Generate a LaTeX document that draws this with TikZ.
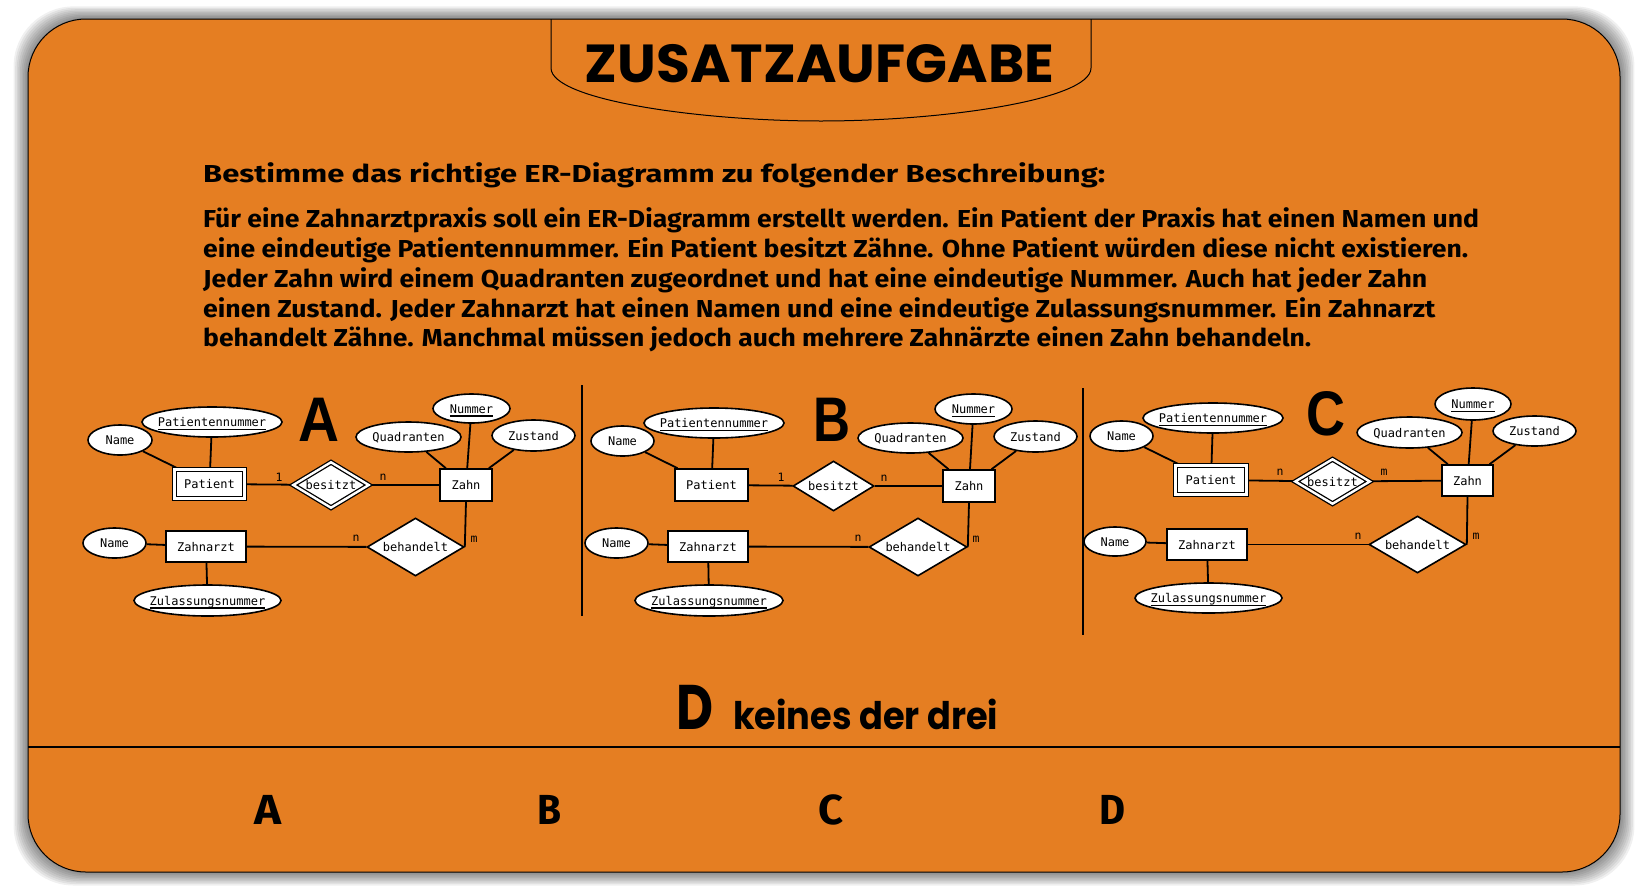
\documentclass[tikz,border=0pt]{standalone}
\usepackage{fontspec}
\usepackage{graphicx}
\usetikzlibrary{shapes.geometric}
\newfontfamily\fira{Fira Sans}
\newfontfamily\popp{Poppins}
\newfontfamily\libs{Liberation Sans}
\newfontfamily\dmono{DejaVu Sans Mono}
\definecolor{bgorange}{RGB}{229,126,34}
\pgfdeclarelayer{back}
\pgfdeclarelayer{edgelayer}
\pgfsetlayers{back,edgelayer,main}
\newcommand\ermono{\dmono\fontsize{12}{14}\selectfont}
\newcommand\cardmono{\dmono\fontsize{11.5}{13}\selectfont}
\newcommand\mb[1]{\makebox[0pt]{#1}}
\newcommand\keyu[1]{\setbox0\hbox{#1}\rlap{\rule[-3.8pt]{\wd0}{1.6pt}}\box0}
\newcommand\fitw[3]{\resizebox{#1}{\height}{#2#3}}
\tikzset{
  er/.style={draw, fill=white, line width=1.6pt, inner sep=0pt, font=\ermono, text height=9.5pt, text depth=0.5pt},
  ent/.style={er, rectangle},
  went/.style={er, rectangle, line width=1.3pt, double, double distance=2.4pt},
  rel/.style={er, diamond},
  wrel/.style={rel, line width=1.3pt, double, double distance=2.4pt},
  attr/.style={er, ellipse},
  card/.style={inner sep=0pt, font=\cardmono},
  conn/.style={line width=1.8pt},
  txt/.style={inner sep=0pt, anchor=base west},
  ctxt/.style={inner sep=0pt, anchor=base},
}
\begin{document}
\begin{tikzpicture}[x=1pt,y=-1pt]
\useasboundingbox (0,0) rectangle (1648,892);
\begin{pgfonlayer}{back}
\fill[white] (0,0) rectangle (1648,892);
\foreach \i in {1,...,9} {
  \fill[black, opacity=0.06, rounded corners=60pt] (28-1.6*\i, 19-1.4*\i) rectangle (1620+1.6*\i, 872+1.5*\i);
}
\fill[bgorange, draw=black, line width=1pt, rounded corners=58pt] (28,19) rectangle (1620,872);
\draw[line width=1pt] (551,19) -- (551,68) .. controls (551,100) and (700,121) .. (821,121) .. controls (942,121) and (1091,100) .. (1091,68) -- (1091,19);
\draw[line width=1.2pt] (28,747) -- (1620,747);
\draw[line width=1.3pt] (582,385) -- (582,616);
\draw[line width=1.3pt] (1083,388) -- (1083,635);
\end{pgfonlayer}

% texts
\node[ctxt] (title) at (819.5,82) {\fitw{469pt}{\popp\bfseries\fontsize{53.5}{60}\selectfont}{ZUSATZAUFGABE}};
\node[txt] (head) at (203,182) {\fitw{902pt}{\fira\bfseries\fontsize{24.5}{30}\selectfont}{Bestimme das richtige ER-Diagramm zu folgender Beschreibung:}};
\node[txt] (p1) at (203,227) {\fitw{1276pt}{\fira\bfseries\fontsize{24.5}{30}\selectfont}{Für eine Zahnarztpraxis soll ein ER-Diagramm erstellt werden. Ein Patient der Praxis hat einen Namen und}};
\node[txt] (p2) at (203,257) {\fitw{1265pt}{\fira\bfseries\fontsize{24.5}{30}\selectfont}{eine eindeutige Patientennummer. Ein Patient besitzt Zähne. Ohne Patient würden diese nicht existieren.}};
\node[txt] (p3) at (203,287) {\fitw{1224pt}{\fira\bfseries\fontsize{24.5}{30}\selectfont}{Jeder Zahn wird einem Quadranten zugeordnet und hat eine eindeutige Nummer. Auch hat jeder Zahn}};
\node[txt] (p4) at (203,317) {\fitw{1232pt}{\fira\bfseries\fontsize{24.5}{30}\selectfont}{einen Zustand. Jeder Zahnarzt hat einen Namen und eine eindeutige Zulassungsnummer. Ein Zahnarzt}};
\node[txt] (p5) at (203,346.5) {\fitw{1108pt}{\fira\bfseries\fontsize{24.5}{30}\selectfont}{behandelt Zähne. Manchmal müssen jedoch auch mehrere Zahnärzte einen Zahn behandeln.}};

\node[txt] (dD) at (676,729) {\fitw{37pt}{\popp\bfseries\fontsize{63}{70}\selectfont}{D}};
\node[txt] (dtext) at (733,729) {\fitw{265pt}{\popp\bfseries\fontsize{38}{44}\selectfont}{keines der drei}};

\node[ctxt] (ansA) at (267.5,824) {\fitw{27pt}{\fira\bfseries\fontsize{42}{48}\selectfont}{A}};
\node[ctxt] (ansB) at (549,824) {\fitw{24pt}{\fira\bfseries\fontsize{42}{48}\selectfont}{B}};
\node[ctxt] (ansC) at (830.5,824) {\fitw{25pt}{\fira\bfseries\fontsize{42}{48}\selectfont}{C}};
\node[ctxt] (ansD) at (1112,824) {\fitw{26pt}{\fira\bfseries\fontsize{42}{48}\selectfont}{D}};

\node[ctxt] (labA) at (318.5,441) {\fitw{41pt}{\libs\bfseries\fontsize{63}{70}\selectfont}{A}};
\node[ctxt] (labB) at (831.5,441) {\fitw{37pt}{\libs\bfseries\fontsize{63}{70}\selectfont}{B}};
\node[ctxt] (labC) at (1325.5,435) {\fitw{39pt}{\libs\bfseries\fontsize{63}{70}\selectfont}{C}};

% ===== Diagram A =====
\node[attr, minimum width=64pt, minimum height=30pt] (nameA1) at (120,440) {\mb{Name}};
\node[attr, minimum width=140pt, minimum height=30pt] (pnrA) at (212,422) {\mb{\keyu{Patientennummer}}};
\node[went, minimum width=70pt, minimum height=29pt] (patA) at (209.5,484) {\mb{Patient}};
\node[wrel, minimum width=76pt, minimum height=46pt] (besA) at (331,485) {\mb{besitzt}};
\node[ent, minimum width=52pt, minimum height=32pt] (zahnA) at (466,485) {\mb{Zahn}};
\node[attr, minimum width=105pt, minimum height=30pt] (quadA) at (408.5,437) {\mb{Quadranten}};
\node[attr, minimum width=77pt, minimum height=29pt] (numA) at (471.5,408.5) {\mb{\keyu{Nummer}}};
\node[attr, minimum width=83pt, minimum height=31pt] (zustA) at (533.5,435.5) {\mb{Zustand}};
\node[rel, minimum width=97pt, minimum height=58pt] (behA) at (415.5,547) {\mb{behandelt}};
\node[ent, minimum width=80pt, minimum height=31pt] (zaA) at (206,546.5) {\mb{Zahnarzt}};
\node[attr, minimum width=63pt, minimum height=30pt] (nameA2) at (114.5,543) {\mb{Name}};
\node[attr, minimum width=147pt, minimum height=31pt] (zulA) at (207.5,600.5) {\mb{\keyu{Zulassungsnummer}}};
\node[card] (cA1) at (279,477) {1};
\node[card] (cA2) at (383,477) {n};
\node[card] (cA3) at (356,538) {n};
\node[card] (cA4) at (474,539) {m};

% ===== Diagram B =====
\node[attr, minimum width=63pt, minimum height=30pt] (nameB1) at (622.5,441) {\mb{Name}};
\node[attr, minimum width=140pt, minimum height=30pt] (pnrB) at (714,423) {\mb{\keyu{Patientennummer}}};
\node[ent, minimum width=73pt, minimum height=32pt] (patB) at (711.5,485) {\mb{Patient}};
\node[rel, minimum width=81pt, minimum height=50pt] (besB) at (833.5,486) {\mb{besitzt}};
\node[ent, minimum width=52pt, minimum height=32pt] (zahnB) at (969,486) {\mb{Zahn}};
\node[attr, minimum width=105pt, minimum height=30pt] (quadB) at (910.5,438) {\mb{Quadranten}};
\node[attr, minimum width=77pt, minimum height=30pt] (numB) at (973.5,409) {\mb{\keyu{Nummer}}};
\node[attr, minimum width=83pt, minimum height=31pt] (zustB) at (1035.5,436.5) {\mb{Zustand}};
\node[rel, minimum width=98pt, minimum height=58pt] (behB) at (918,547) {\mb{behandelt}};
\node[ent, minimum width=80pt, minimum height=31pt] (zaB) at (708,546.5) {\mb{Zahnarzt}};
\node[attr, minimum width=63pt, minimum height=30pt] (nameB2) at (616.5,543) {\mb{Name}};
\node[attr, minimum width=148pt, minimum height=31pt] (zulB) at (709,600.5) {\mb{\keyu{Zulassungsnummer}}};
\node[card] (cB1) at (781,477.5) {1};
\node[card] (cB2) at (884,478) {n};
\node[card] (cB3) at (858,538) {n};
\node[card] (cB4) at (976,539) {m};

% ===== Diagram C =====
\node[attr, minimum width=63pt, minimum height=30pt] (nameC1) at (1121.5,436) {\mb{Name}};
\node[attr, minimum width=140pt, minimum height=30pt] (pnrC) at (1213,418) {\mb{\keyu{Patientennummer}}};
\node[went, minimum width=71pt, minimum height=29pt] (patC) at (1211,480) {\mb{Patient}};
\node[wrel, minimum width=75pt, minimum height=45pt] (besC) at (1332.5,481.5) {\mb{besitzt}};
\node[ent, minimum width=51pt, minimum height=31pt] (zahnC) at (1467.5,480.5) {\mb{Zahn}};
\node[attr, minimum width=105pt, minimum height=31pt] (quadC) at (1409.5,432.5) {\mb{Quadranten}};
\node[attr, minimum width=76pt, minimum height=32pt] (numC) at (1473,404) {\mb{\keyu{Nummer}}};
\node[attr, minimum width=83pt, minimum height=30pt] (zustC) at (1534.5,431) {\mb{Zustand}};
\node[rel, minimum width=97pt, minimum height=57pt] (behC) at (1417.5,544.5) {\mb{behandelt}};
\node[ent, minimum width=80pt, minimum height=31pt] (zaC) at (1207,544.5) {\mb{Zahnarzt}};
\node[attr, minimum width=62pt, minimum height=29pt] (nameC2) at (1115,541.5) {\mb{Name}};
\node[attr, minimum width=147pt, minimum height=30pt] (zulC) at (1208.5,598) {\mb{\keyu{Zulassungsnummer}}};
\node[card] (cC1) at (1280,472) {n};
\node[card] (cC2) at (1384,472) {m};
\node[card] (cC3) at (1358,536) {n};
\node[card] (cC4) at (1476,536) {m};

\begin{pgfonlayer}{edgelayer}
\foreach \d in {A,B,C} {
  \draw[conn] (name\d1) -- (pat\d);
  \draw[conn] (pnr\d) -- (pat\d);
  \draw[conn] (pat\d) -- (bes\d);
  \draw[conn] (bes\d) -- (zahn\d);
  \draw[conn] (quad\d) -- (zahn\d);
  \draw[conn] (num\d) -- (zahn\d);
  \draw[conn] (zust\d) -- (zahn\d);
  \draw[conn] (zahn\d.south) -- (beh\d.east);
  \draw[conn] (za\d) -- (beh\d);
  \draw[conn] (name\d2) -- (za\d);
  \draw[conn] (zul\d) -- (za\d);
}
\end{pgfonlayer}
\end{tikzpicture}
\end{document}
